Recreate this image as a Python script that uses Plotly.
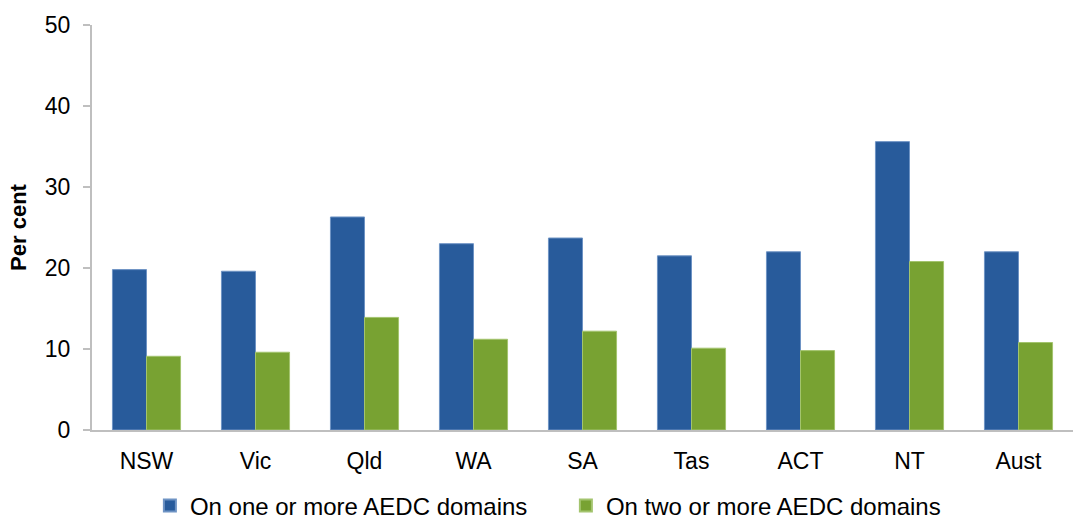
import plotly.graph_objects as go

categories = ["NSW", "Vic", "Qld", "WA", "SA", "Tas", "ACT", "NT", "Aust"]
one_or_more = [19.8, 19.6, 26.3, 23.0, 23.7, 21.5, 22.0, 35.6, 22.0]
two_or_more = [9.1, 9.6, 13.9, 11.2, 12.2, 10.1, 9.8, 20.8, 10.8]
series_names = ["On one or more AEDC domains", "On two or more AEDC domains"]
y_ticks = [0, 10, 20, 30, 40, 50]

FONT = "Liberation Sans, Arial, sans-serif"

fig = go.Figure()
fig.add_trace(go.Bar(x=categories, y=one_or_more, name=series_names[0],
                     marker=dict(color="#285B9B", line=dict(color="#6E93C4", width=1))))
fig.add_trace(go.Bar(x=categories, y=two_or_more, name=series_names[1],
                     marker=dict(color="#78A232", line=dict(color="#A3C46E", width=1))))

fig.update_layout(
    width=1077, height=519,
    margin=dict(l=92, r=4, t=25, b=89, autoexpand=False),
    paper_bgcolor="white", plot_bgcolor="white",
    barmode="group", bargap=0.375, bargroupgap=0,
    font=dict(family=FONT, size=23, color="black"),
    showlegend=True,
    legend=dict(orientation="h", x=0.059, xanchor="left", y=-0.132, yanchor="top",
                font=dict(family=FONT, size=24, color="black"),
                itemwidth=30, traceorder="normal", itemsizing="constant",
                entrywidth=371, entrywidthmode="pixels"),
    xaxis=dict(showline=True, linecolor="#BFBFBF", linewidth=2, ticks="",
               tickfont=dict(family=FONT, size=23), showgrid=False, zeroline=False,
               ticklabelstandoff=9),
    yaxis=dict(range=[0, 50], tickvals=y_ticks, showline=True, linecolor="#BFBFBF",
               linewidth=2, ticks="outside", ticklen=7, tickcolor="#BFBFBF", tickwidth=2,
               showgrid=False, zeroline=False, ticklabelstandoff=8,
               tickfont=dict(family=FONT, size=23),
               title=dict(text="<b>Per cent</b>", font=dict(family=FONT, size=22), standoff=12)),
)

fig.write_html("out.html")
